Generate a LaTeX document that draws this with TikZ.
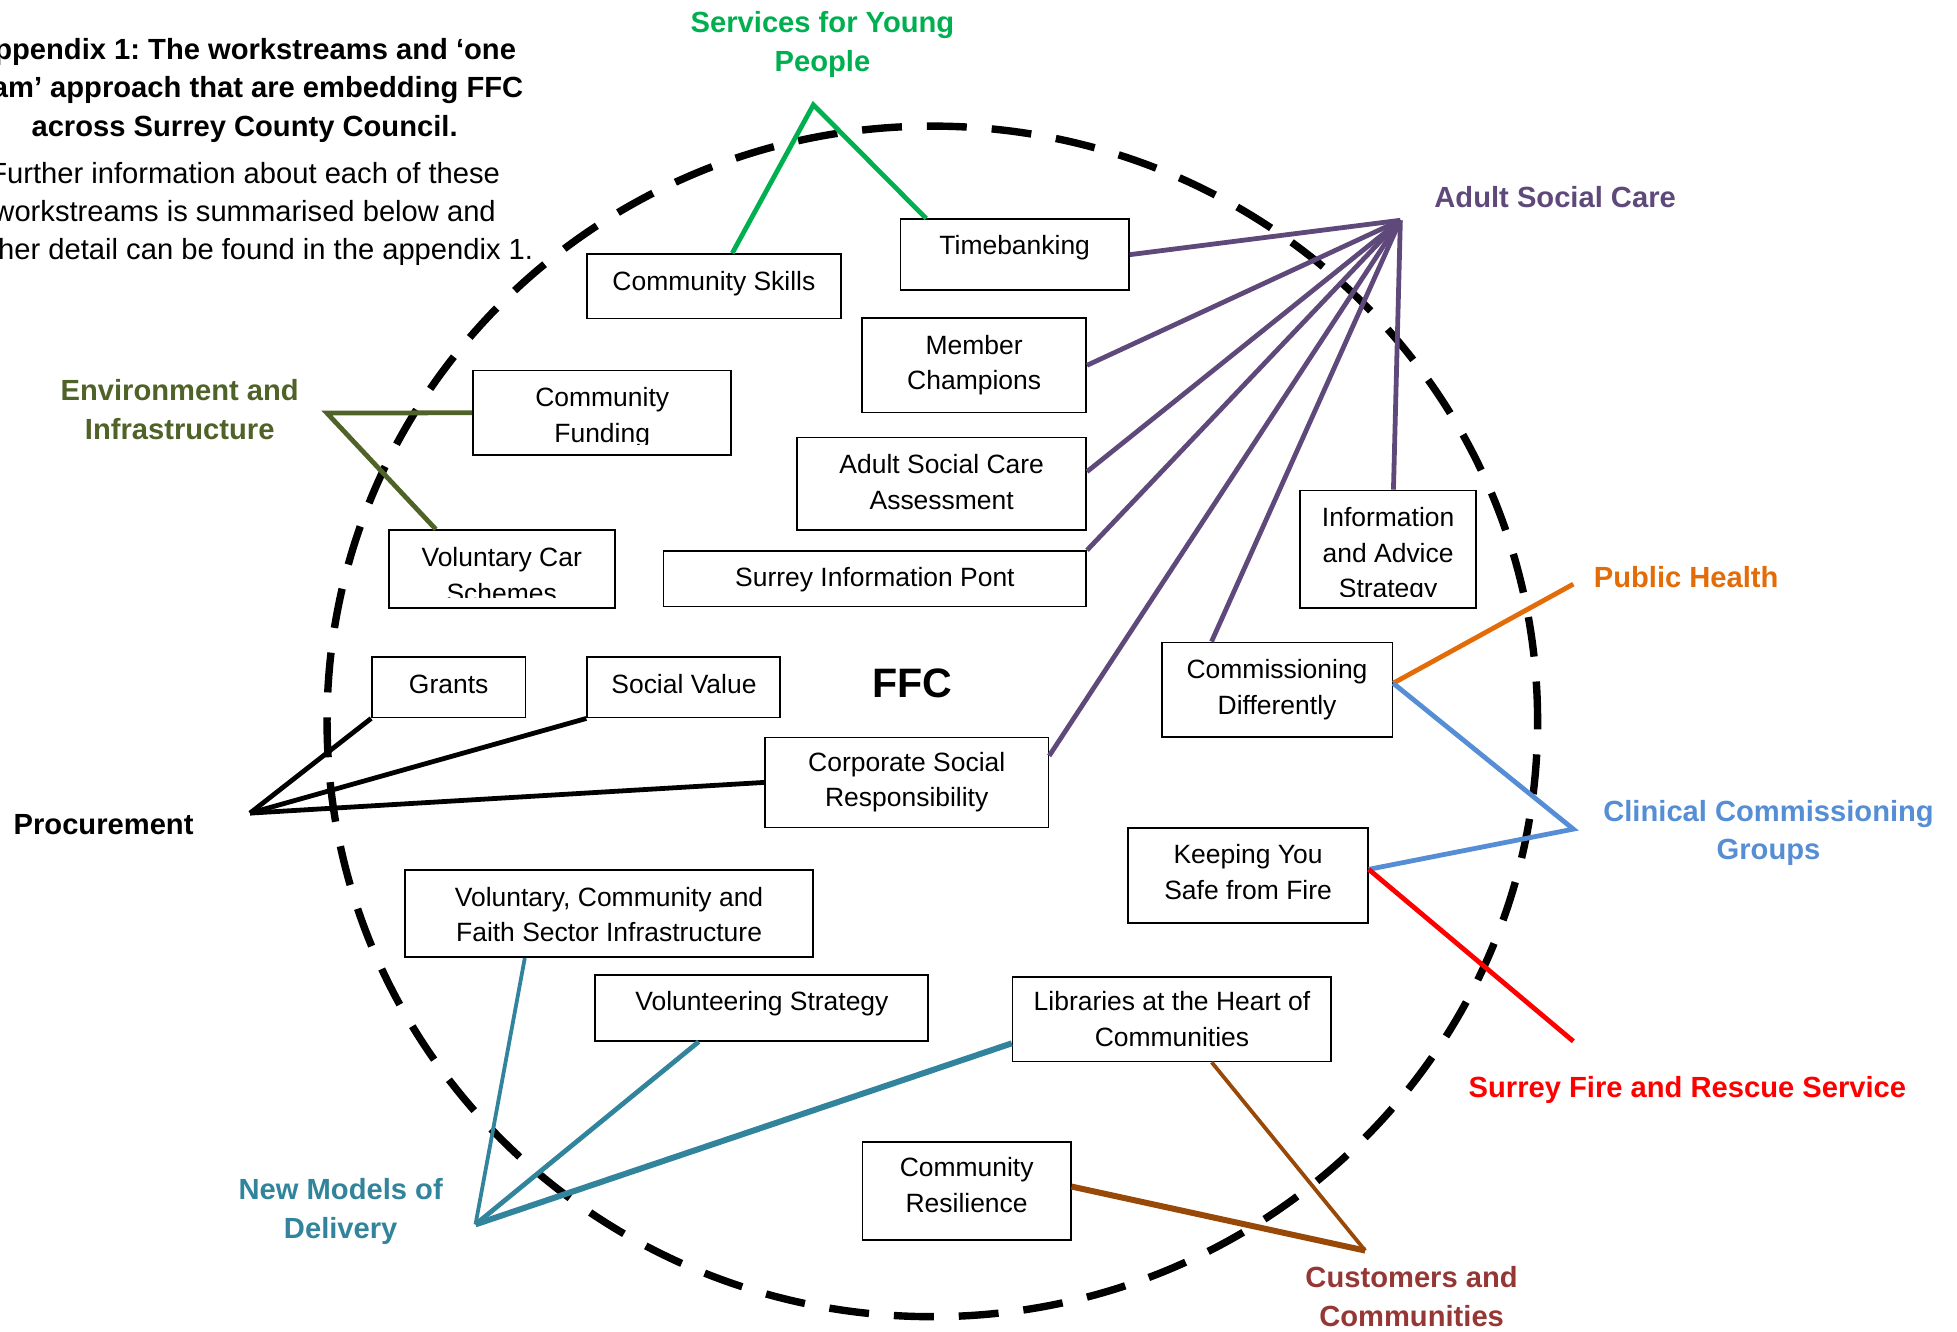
\documentclass[tikz,border=0pt]{standalone}
\usepackage{fontspec}
\setmainfont{Liberation Sans}
\usetikzlibrary{fit,calc}
\definecolor{sypgreen}{HTML}{00B050}
\definecolor{ascpurple}{HTML}{5F497A}
\definecolor{envolive}{HTML}{4F6228}
\definecolor{phorange}{HTML}{E36C09}
\definecolor{ccgblue}{HTML}{558ED5}
\definecolor{sfrsred}{HTML}{FF0000}
\definecolor{nmdteal}{HTML}{31849B}
\definecolor{cclabel}{HTML}{953735}
\definecolor{ccbrown}{HTML}{984807}
\frenchspacing
\begin{document}
\begin{tikzpicture}[x=0.625pt,y=-0.625pt,
  box/.style={draw=black, line width=0.8pt, inner sep=0pt},
  txt/.style={font=\fontsize{13.25pt}{17.8pt}\selectfont, align=center, anchor=base, inner sep=0pt},
  lab/.style={font=\fontsize{14.6pt}{19.4pt}\selectfont\bfseries, align=center, anchor=base, inner sep=0pt},
  para/.style={font=\fontsize{14.6pt}{19.06pt}\selectfont, align=center, anchor=base, inner sep=0pt},
  ring/.style={draw=black, line width=3.7pt, dash pattern=on 20pt off 12.5pt},
  conn/.style={line width=2.4pt},
  thin conn/.style={line width=1.9pt},
  thick conn/.style={line width=3pt}]
\useasboundingbox (0,0) rectangle (1568,1067);

% dashed ring
\draw[ring] (747,578) ellipse [x radius=303.1pt, y radius=298.1pt];

% title and explanation (coordinates = baseline of last line)
\node[lab] (title) at (196,109.5) {Appendix 1: The workstreams and ‘one\\team’ approach that are embedding FFC\\across Surrey County Council.};
\node[para] (intro) at (196,208.3) {Further information about each of these\\workstreams is summarised below and\\further detail can be found in the appendix 1.};

% FFC
\node[anchor=base, inner sep=0pt, font=\fontsize{20.6pt}{24pt}\selectfont\bfseries] (ffc) at (731,559) {FFC};

% boxes
\node[box, fit={(470.4,203.5)(673.9,255.1)}] (cs) {};
\node[txt] (cs-t) at (572,232.4) {Community Skills};
\node[box, fit={(721.5,175.7)(904.6,232.4)}] (tb) {};
\node[txt] (tb-t) at (813,204.3) {Timebanking};
\node[box, fit={(690.8,255)(870.3,330.4)}] (mc) {};
\node[txt] (mc-t) at (780.5,312.2) {Member\\Champions};
\node[box, fit={(379,296.8)(585.8,364.6)}] (cf) {};
\begin{scope}
  \clip (379,296.8) rectangle (585.8,356);
  \node[txt] (cf-t) at (482.5,354.5) {Community\\Funding};
\end{scope}
\node[box, fit={(638.6,350.7)(870.3,424.7)}] (asca) {};
\node[txt] (asca-t) at (754.5,408.1) {Adult Social Care\\Assessment};
\node[box, fit={(531.6,441.5)(870.3,486.1)}] (sip) {};
\node[txt] (sip-t) at (701,470.1) {Surrey Information Pont};
\node[box, fit={(311.5,424.7)(492.6,487)}] (vcs) {};
\begin{scope}
  \clip (311.5,424.7) rectangle (492.6,478.5);
  \node[txt] (vcs-t) at (402,482.5) {Voluntary Car\\Schemes};
\end{scope}
\node[box, fit={(1041.7,393)(1182.7,487)}] (ias) {};
\begin{scope}
  \clip (1041.7,393) rectangle (1182.7,478);
  \node[txt] (ias-t) at (1112.2,479) {Information\\and Advice\\Strategy};
\end{scope}
\node[box, fit={(298,526.5)(421,575)}] (grants) {};
\node[txt] (grants-t) at (359.5,556) {Grants};
\node[box, fit={(470.4,526.5)(625,575)}] (sv) {};
\node[txt] (sv-t) at (548,556) {Social Value};
\node[box, fit={(612.8,590.8)(840,663)}] (csr) {};
\node[txt] (csr-t) at (726.5,646.5) {Corporate Social\\Responsibility};
\node[box, fit={(930.8,514.7)(1115.6,590.3)}] (cd) {};
\node[txt] (cd-t) at (1023.2,572.5) {Commissioning\\Differently};
\node[box, fit={(903.8,663.4)(1096,739.6)}] (kysf) {};
\node[txt] (kysf-t) at (1000,720.5) {Keeping You\\Safe from Fire};
\node[box, fit={(324.6,697)(651.6,767)}] (vcf) {};
\node[txt] (vcf-t) at (488,754.5) {Voluntary, Community and\\Faith Sector Infrastructure};
\node[box, fit={(476.6,781)(743.3,834)}] (vs) {};
\node[txt] (vs-t) at (610.5,810) {Volunteering Strategy};
\node[box, fit={(811.3,782.7)(1066.3,850.5)}] (lib) {};
\node[txt] (lib-t) at (939,838.5) {Libraries at the Heart of\\Communities};
\node[box, fit={(691,915)(858,993.6)}] (cr) {};
\node[txt] (cr-t) at (774.5,971.5) {Community\\Resilience};

% category labels
\node[lab, text=sypgreen] (syp-l) at (659,57) {Services for Young\\People};
\node[lab, text=ascpurple] (asc-l) at (1246,166) {Adult Social Care};
\node[lab, text=envolive] (env-l) at (144,352) {Environment and\\Infrastructure};
\node[lab, text=phorange] (ph-l) at (1351,471) {Public Health};
\node[lab, text=black] (proc-l) at (83,669) {Procurement};
\node[lab, text=ccgblue] (ccg-l) at (1417,689) {Clinical Commissioning\\Groups};
\node[lab, text=sfrsred] (sfrs-l) at (1352,879) {Surrey Fire and Rescue Service};
\node[lab, text=nmdteal] (nmd-l) at (273,992) {New Models of\\Delivery};
\node[lab, text=cclabel] (cc-l) at (1131,1063) {Customers and\\Communities};

% hubs
\coordinate (syp) at (651.7,84);
\coordinate (asc) at (1122,176.5);
\coordinate (env) at (262,331);
\coordinate (proc) at (200.3,651.5);
\coordinate (ph) at (1260.6,468);
\coordinate (ccg) at (1260.6,664.3);
\coordinate (sfrs) at (1260.6,834.3);
\coordinate (nmd) at (381,981);
\coordinate (cc) at (1093.8,1002);

% Services for Young People
\draw[conn, sypgreen] ($(cs.north west)!0.571!(cs.north east)$) -- (syp) -- ($(tb.north west)!0.115!(tb.north east)$);

% Adult Social Care
\draw[conn, ascpurple] (asc) -- (tb.east);
\draw[conn, ascpurple] (asc) -- (mc.east);
\draw[conn, ascpurple] (asc) -- ($(asca.north east)!0.37!(asca.south east)$);
\draw[conn, ascpurple] (asc) -- (sip.north east);
\draw[conn, ascpurple] (asc) -- ($(csr.north east)!0.21!(csr.south east)$);
\draw[conn, ascpurple] (asc) -- ($(cd.north west)!0.218!(cd.north east)$);
\draw[conn, ascpurple] (asc) -- ($(ias.north west)!0.53!(ias.north east)$);

% Environment and Infrastructure
\draw[conn, envolive] (cf.west) -- (env) -- ($(vcs.north west)!0.21!(vcs.north east)$);

% Procurement
\draw[conn, black] (proc) -- (grants.south west);
\draw[conn, black] (proc) -- (sv.south west);
\draw[conn, black] (proc) -- (csr.west);

% Public Health, CCG, SFRS
\draw[conn, phorange] ($(cd.north east)!0.434!(cd.south east)$) -- (ph);
\draw[conn, ccgblue] ($(cd.north east)!0.434!(cd.south east)$) -- (ccg) -- ($(kysf.north east)!0.436!(kysf.south east)$);
\draw[conn, sfrsred] ($(kysf.north east)!0.436!(kysf.south east)$) -- (sfrs);

% New Models of Delivery
\draw[thin conn, nmdteal] (nmd) -- ($(vcf.south west)!0.294!(vcf.south east)$);
\draw[conn, nmdteal] (nmd) -- ($(vs.south west)!0.313!(vs.south east)$);
\draw[thick conn, nmdteal] (nmd) -- ($(lib.north west)!0.78!(lib.south west)$);

% Customers and Communities
\draw[thin conn, ccbrown] (cc) -- ($(lib.south west)!0.625!(lib.south east)$);
\draw[thick conn, ccbrown] (cc) -- ($(cr.north east)!0.455!(cr.south east)$);
\end{tikzpicture}
\end{document}
